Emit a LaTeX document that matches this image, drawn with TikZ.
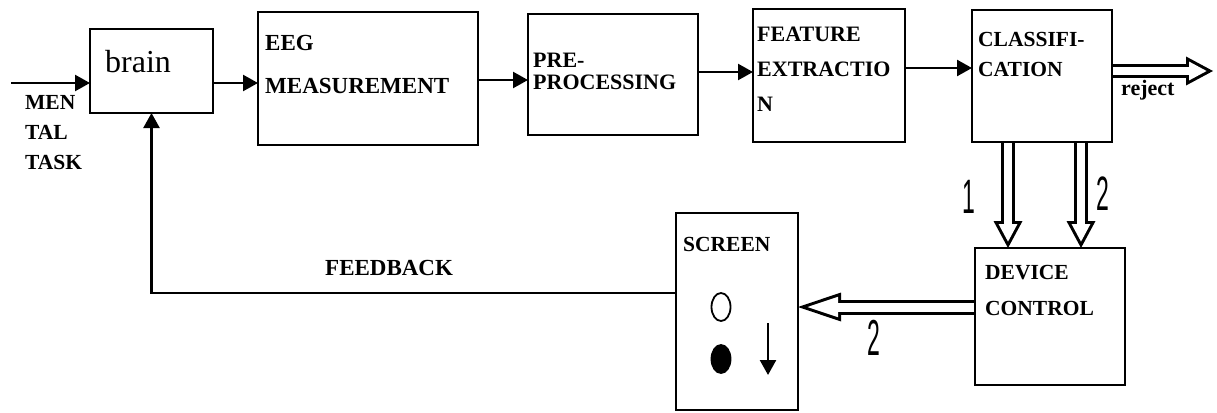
\documentclass[tikz,border=0pt]{standalone}
\usepackage{fontspec}
\setmainfont{Liberation Serif}
\newfontfamily\digitfont{Liberation Sans}
\usepackage{tikz}
\usetikzlibrary{shapes.geometric, arrows.meta, positioning}
\tikzset{
    box/.style={rectangle, draw, line width=2.8pt, inner sep=0pt, outer sep=0pt, anchor=north west},
    boxtext/.style={inner sep=0pt, align=left, font=\bfseries\fontsize{22}{30}\selectfont},
    flow/.style={line width=2.4pt, -{Triangle[length=15pt, width=16pt]}},
    hollow/.style={line width=14pt, -{Triangle[length=27pt, width=29pt, line width=0pt]}},
    hollowcore/.style={white, line width=8pt, shorten <=1.4pt, shorten >=6.4pt, -{Triangle[length=17.5pt, width=18.8pt, line width=0pt]}},
    widehollow/.style={line width=15pt, -{Triangle[length=43pt, width=29pt, line width=0pt]}},
    widehollowcore/.style={white, line width=9pt, shorten <=1.4pt, shorten >=9.5pt, -{Triangle[length=30.5pt, width=20.5pt, line width=0pt]}},
    lamp/.style={ellipse, draw, line width=1.8pt, minimum width=19pt, minimum height=28pt, inner sep=0pt},
    digit/.style={inner sep=0pt, font=\digitfont\fontsize{46}{46}\selectfont}
}

\begin{document}
\begin{tikzpicture}[x=1pt, y=-1pt]
    \useasboundingbox (0,0) rectangle (1217,412);

    % blocks
    \node[box, minimum width=123pt, minimum height=84pt] (brain) at (90,29) {};
    \node[box, minimum width=220pt, minimum height=133pt] (eeg) at (258,12) {};
    \node[box, minimum width=170pt, minimum height=121pt] (pre) at (528,14) {};
    \node[box, minimum width=152pt, minimum height=133pt] (feat) at (753,9) {};
    \node[box, minimum width=140pt, minimum height=132pt] (cls) at (972,10) {};
    \node[box, minimum width=150pt, minimum height=137pt] (dev) at (975,248) {};
    \node[box, minimum width=122pt, minimum height=197pt] (scr) at (676,213) {};

    % block texts
    \node[boxtext, font=\mdseries\fontsize{32}{32}\selectfont, below right=21pt and 15pt of brain.north west] (braintxt) {brain};
    \node[boxtext, font=\bfseries\fontsize{23}{43}\selectfont, below right=23pt and 7pt of eeg.north west] (eegtxt) {EEG\\MEASUREMENT};
    \node[boxtext, font=\bfseries\fontsize{22}{22}\selectfont, below right=39pt and 5pt of pre.north west] (pretxt) {PRE-\\PROCESSING};
    \node[boxtext, font=\bfseries\fontsize{22}{35}\selectfont, below right=18pt and 4pt of feat.north west] (feattxt) {FEATURE\\EXTRACTIO\\N};
    \node[boxtext, font=\bfseries\fontsize{21.5}{30}\selectfont, below right=22pt and 6pt of cls.north west] (clstxt) {CLASSIFI-\\CATION};
    \node[boxtext, font=\bfseries\fontsize{21.5}{36}\selectfont, below right=17pt and 10pt of dev.north west] (devtxt) {DEVICE\\CONTROL};
    \node[boxtext, font=\bfseries\fontsize{21.5}{30}\selectfont, below right=24pt and 7pt of scr.north west] (scrtxt) {SCREEN};

    % screen contents
    \node[lamp] (lampoff) at (721,307) {};
    \node[lamp, fill=black] (lampon) at (721,359) {};
    \coordinate (downtop) at (768,323);
    \coordinate (downbot) at (768,375);
    \draw[flow] (downtop) -- (downbot);

    % signal path
    \coordinate (taskin) at (11,83);
    \draw[flow] (taskin) -- (taskin -| brain.west);
    \node[boxtext, anchor=north west, font=\bfseries\fontsize{21.5}{30}\selectfont] (tasktxt) at (25,95) {MEN\\TAL\\TASK};
    \draw[flow] (brain.east |- taskin) -- (eeg.west |- taskin);
    \draw[flow] ([yshift=-1.5pt]eeg.east) -- ([yshift=-1.5pt]eeg.east -| pre.west);
    \draw[flow] ([yshift=2.5pt]pre.east) -- ([yshift=2.5pt]pre.east -| feat.west);
    \draw[flow] ([yshift=7.5pt]feat.east) -- ([yshift=7.5pt]feat.east -| cls.west);

    % reject output
    \coordinate (rejectend) at (1213,71);
    \draw[hollow] (cls.east |- rejectend) -- (rejectend);
    \draw[hollowcore] (cls.east |- rejectend) -- (rejectend);
    \node[boxtext, anchor=north west, font=\bfseries\fontsize{22}{22}\selectfont] (rejecttxt) at (1121,80) {reject};

    % class outputs to device control
    \draw[hollow] ([xshift=-34pt]cls.south) -- ([xshift=-34pt]cls.south |- dev.north);
    \draw[hollowcore] ([xshift=-34pt]cls.south) -- ([xshift=-34pt]cls.south |- dev.north);
    \draw[hollow] ([xshift=39pt]cls.south) -- ([xshift=39pt]cls.south |- dev.north);
    \draw[hollowcore] ([xshift=39pt]cls.south) -- ([xshift=39pt]cls.south |- dev.north);
    \node[digit] (one) at (969,197) {\scalebox{0.5}[1.05]{1}};
    \node[digit] (two) at (1103,194) {\scalebox{0.5}[1.05]{2}};

    % device control to screen
    \draw[widehollow] ([yshift=9.5pt]dev.west) -- ([yshift=9.5pt]dev.west -| scr.east);
    \draw[widehollowcore] ([yshift=9.5pt]dev.west) -- ([yshift=9.5pt]dev.west -| scr.east);
    \node[digit] (twoscr) at (874,338) {\scalebox{0.5}[1.1]{2}};

    % feedback
    \draw[flow] ([yshift=18.5pt]scr.west) -| (brain.south);
    \node[boxtext, anchor=north west, font=\bfseries\fontsize{23}{23}\selectfont] (fbtxt) at (325,260) {FEEDBACK};
\end{tikzpicture}
\end{document}
